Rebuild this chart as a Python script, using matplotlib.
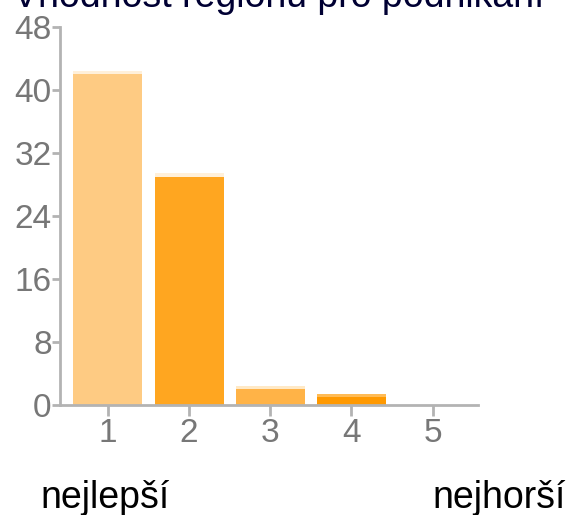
import matplotlib
matplotlib.use("Agg")
import matplotlib.pyplot as plt

plt.rcParams['font.family'] = ['Liberation Sans', 'DejaVu Sans']

# data
categories = ['1', '2', '3', '4', '5']
values = [42, 29, 2, 1, 0]
bar_colors = ['#FECB83', '#FFA620', '#FFB347', '#FF9900', '#FFA620']
top_colors = ['#FFF0DA', '#FFF0DA', '#FFE9C6', '#FFBB55', '#FFF0DA']
y_ticks = [0, 8, 16, 24, 32, 40, 48]
title = 'Vhodnost regionu pro podnikání'

fig = plt.figure(figsize=(5.71, 5.15), dpi=100)
ax = fig.add_axes([60 / 571, 1 - 405 / 515, (478 - 60) / 571, (405 - 27) / 515])

x = list(range(1, len(categories) + 1))
ax.bar(x, values, width=0.85, color=bar_colors, zorder=2)
# thin light strip on top of each bar
shown = [i for i, v in enumerate(values) if v > 0]
ax.bar([x[i] for i in shown], [0.4] * len(shown), bottom=[values[i] for i in shown],
       width=0.85, color=[top_colors[i] for i in shown], zorder=2)

ax.set_xlim(0.41, 5.56)
ax.set_ylim(0, 48)
ax.set_xticks(x)
ax.set_xticklabels(categories)
ax.set_yticks(y_ticks)

for side in ['top', 'right']:
    ax.spines[side].set_visible(False)
for side in ['left', 'bottom']:
    ax.spines[side].set_color('#B3B3B3')
    ax.spines[side].set_linewidth(2)

ax.tick_params(axis='x', length=8, width=2, color='#B3B3B3', labelcolor='#777777',
               labelsize=24, pad=1)
ax.tick_params(axis='y', length=6, width=2, color='#B3B3B3', labelcolor='#777777',
               labelsize=24, pad=0)

# title is cut off by the top edge, as in the original
fig.text(13 / 571, 1 - 7 / 515, title, fontsize=27, color='#000033', ha='left', va='baseline')

fig.text(40 / 571, 1 - 508 / 515, 'nejlepší', fontsize=27, color='#000000', ha='left', va='baseline')
fig.text(432 / 571, 1 - 508 / 515, 'nejhorší', fontsize=27, color='#000000', ha='left', va='baseline')

fig.savefig('out.png', dpi=100)
